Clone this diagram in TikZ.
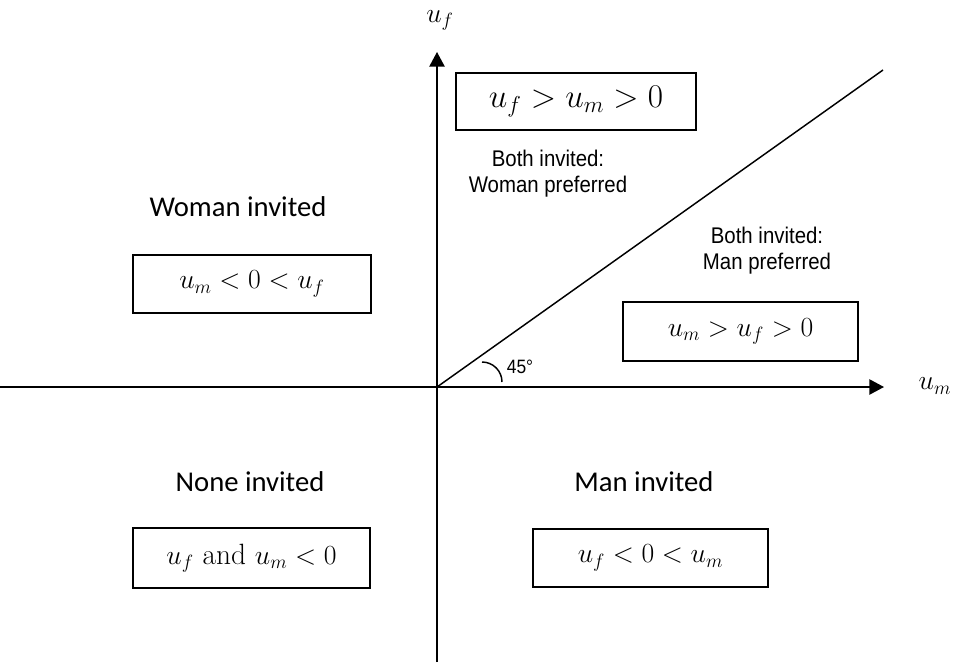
\documentclass[tikz,border=0pt]{standalone}
\usepackage{fontspec}
\newfontfamily\calibri{Carlito}
\newfontfamily\arialn[FakeStretch=0.9]{Liberation Sans}
\usetikzlibrary{arrows.meta}
\begin{document}
\begin{tikzpicture}[x=0.75pt,y=-0.75pt,
  axis/.style={line width=1.1pt,-{Triangle[length=11pt,width=11.5pt]}},
  mbox/.style={draw,line width=1.1pt,inner sep=0pt,font=\fontsize{22}{26}\selectfont},
  region/.style={font=\calibri\fontsize{21.5}{26}\selectfont},
  small/.style={font=\arialn\fontsize{17}{19.5}\selectfont,align=center}]
\useasboundingbox (0,0) rectangle (954,665);
\coordinate (o) at (437,387);
\coordinate (xl) at (0,387);
\coordinate (xr) at (884,387);
\coordinate (yb) at (437,662);
\coordinate (yt) at (437,52);
\coordinate (d) at (883,70);
\coordinate (arcstart) at (482,362);
\draw[axis] (xl) -- (xr);
\draw[axis] (yb) -- (yt);
\draw[line width=1.1pt] (o) -- (d);
\node (uf) at (440,20) {\fontsize{22}{26}\selectfont$u_f$};
\node (um) at (935,386) {\fontsize{22}{26}\selectfont$u_m$};
\draw[line width=1.1pt] (arcstart) arc[start angle=90,end angle=0,radius=15pt];
\node[font=\arialn\fontsize{14.5}{16}\selectfont] (ang) at (520,367) {45°};
\node[mbox,font=\fontsize{24}{28}\selectfont,minimum width=180pt,minimum height=42.75pt] (b1) at (576,101.5) {$u_f>u_m>0$};
\node[mbox,minimum width=178.5pt,minimum height=43.5pt] (b2) at (252,284) {$u_m<0<u_f$};
\node[mbox,minimum width=176.25pt,minimum height=44.25pt] (b3) at (740.5,331.5) {$u_m>u_f>0$};
\node[mbox,minimum width=177.75pt,minimum height=45pt] (b4) at (251.5,558) {$u_f\ \mathrm{and}\ u_m<0$};
\node[mbox,minimum width=176.25pt,minimum height=43.5pt] (b5) at (650.5,558) {$u_f<0<u_m$};
\node[region] (t1) at (238,207) {Woman invited};
\node[region] (t2) at (250,482) {None invited};
\node[region] (t3) at (644,482) {Man invited};
\node[small] (t4) at (548,174) {Both invited:\\Woman preferred};
\node[small] (t5) at (767,251) {Both invited:\\Man preferred};
\end{tikzpicture}
\end{document}
